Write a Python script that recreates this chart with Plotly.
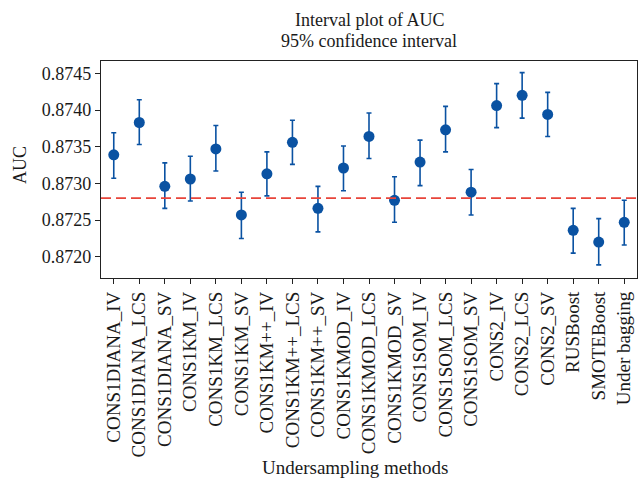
import plotly.graph_objects as go

methods = ["CONS1DIANA_IV", "CONS1DIANA_LCS", "CONS1DIANA_SV",
           "CONS1KM_IV", "CONS1KM_LCS", "CONS1KM_SV",
           "CONS1KM++_IV", "CONS1KM++_LCS", "CONS1KM++_SV",
           "CONS1KMOD_IV", "CONS1KMOD_LCS", "CONS1KMOD_SV",
           "CONS1SOM_IV", "CONS1SOM_LCS", "CONS1SOM_SV",
           "CONS2_IV", "CONS2_LCS", "CONS2_SV",
           "RUSBoost", "SMOTEBoost", "Under bagging"]
auc_mean = [0.87339, 0.87383, 0.87296, 0.87306, 0.87347, 0.87257,
            0.87313, 0.87356, 0.87266, 0.87321, 0.87364, 0.87277,
            0.87329, 0.87373, 0.87288, 0.87406, 0.87420, 0.87394,
            0.87236, 0.87220, 0.87247]
ci_upper = [0.87369, 0.87414, 0.87328, 0.87337, 0.87379, 0.87288,
            0.87343, 0.87386, 0.87296, 0.87351, 0.87396, 0.87309,
            0.87359, 0.87405, 0.87319, 0.87436, 0.87451, 0.87424,
            0.87266, 0.87252, 0.87277]
ci_lower = [0.87307, 0.87353, 0.87266, 0.87276, 0.87317, 0.87225,
            0.87283, 0.87326, 0.87234, 0.87290, 0.87334, 0.87247,
            0.87297, 0.87343, 0.87257, 0.87376, 0.87389, 0.87364,
            0.87205, 0.87189, 0.87216]
ref_line = 0.87280
y_ticks = [0.8720, 0.8725, 0.8730, 0.8735, 0.8740, 0.8745]

err_plus = [u - m for u, m in zip(ci_upper, auc_mean)]
err_minus = [m - l for m, l in zip(auc_mean, ci_lower)]

blue = "#0a52a2"
font_family = "Liberation Serif, Times New Roman, serif"

W, H = 640, 479
ML, MR, MT, MB = 101, 3, 61, 201
plot_w = W - ML - MR
plot_h = H - MT - MB


def px_x(x):
    return (x - ML) / plot_w


def px_y(y):
    return (H - MB - y) / plot_h


fig = go.Figure()
fig.add_trace(go.Scatter(
    x=methods, y=auc_mean, mode="markers",
    marker=dict(color=blue, size=11),
    error_y=dict(type="data", symmetric=False, array=err_plus, arrayminus=err_minus,
                 color=blue, thickness=1.6, width=2.5),
    showlegend=False,
))
fig.add_hline(y=ref_line, line=dict(color="#e8443a", width=1.6, dash="10px,5px"))

fig.update_layout(
    width=W, height=H,
    margin=dict(l=ML, r=MR, t=MT, b=MB, autoexpand=False),
    paper_bgcolor="white", plot_bgcolor="white",
    font=dict(family=font_family, color="#1a1a1a", size=18),
    xaxis=dict(
        range=[-0.5, len(methods) - 0.5], tickangle=-90, automargin=False,
        showline=True, linecolor="#222", linewidth=1.2, mirror=True,
        ticks="outside", ticklen=5, tickcolor="#222", showgrid=False,
        tickfont=dict(size=19, family=font_family),
    ),
    yaxis=dict(
        range=[0.871711, 0.874668], tickvals=y_ticks, automargin=False,
        ticktext=[f"{v:.4f}" for v in y_ticks],
        showline=True, linecolor="#222", linewidth=1.2, mirror=True,
        ticks="outside", ticklen=5, tickcolor="#222", showgrid=False,
        zeroline=False,
        tickfont=dict(size=18, family=font_family),
    ),
    annotations=[
        dict(text="Interval plot of AUC", x=px_x(369), xref="paper",
             y=px_y(20), yref="paper", yanchor="middle", showarrow=False,
             font=dict(size=18)),
        dict(text="95% confidence interval", x=px_x(369), xref="paper",
             y=px_y(41), yref="paper", yanchor="middle", showarrow=False,
             font=dict(size=18)),
        dict(text="Undersampling methods", x=px_x(355), xref="paper",
             y=px_y(467), yref="paper", yanchor="middle", showarrow=False,
             font=dict(size=19)),
        dict(text="AUC", x=px_x(20), xref="paper", y=px_y(165), yref="paper",
             xanchor="center", yanchor="middle", textangle=-90, showarrow=False,
             font=dict(size=18)),
    ],
)

fig.write_html("out.html", config={"displayModeBar": False},
               post_script="document.body.style.margin='0';document.body.style.overflow='hidden';")
